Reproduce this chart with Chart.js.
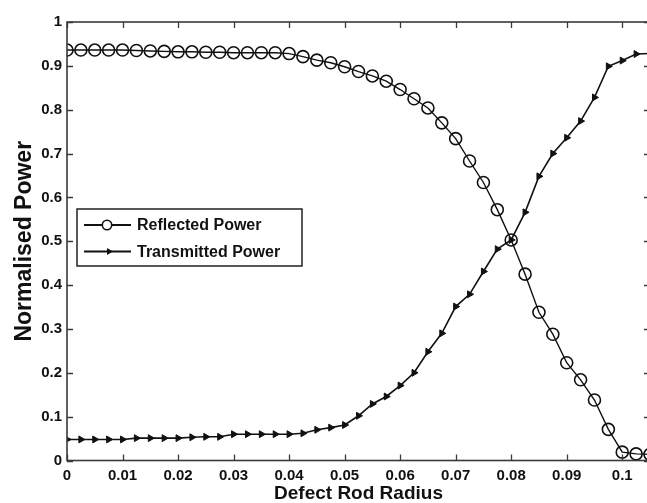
<!DOCTYPE html>
<html>
<head>
<meta charset="utf-8">
<script src="https://cdn.jsdelivr.net/npm/chart.js@4.4.1/dist/chart.umd.min.js"></script>
<style>
    html, body { margin: 0; padding: 0; background: #ffffff; overflow: hidden; }
    #wrap { width: 647px; height: 503px; overflow: hidden; }
</style>
</head>
<body>
<div id="wrap"><canvas id="powerChart" width="651" height="503"></canvas></div>
<script>
/* ----------------------------------------------------------------------------
                                     DATA
---------------------------------------------------------------------------- */
var defectRadius = [0, 0.0025, 0.005, 0.0075, 0.01, 0.0125, 0.015, 0.0175, 0.02, 0.0225,
                    0.025, 0.0275, 0.03, 0.0325, 0.035, 0.0375, 0.04, 0.0425, 0.045, 0.0475,
                    0.05, 0.0525, 0.055, 0.0575, 0.06, 0.0625, 0.065, 0.0675, 0.07, 0.0725,
                    0.075, 0.0775, 0.08, 0.0825, 0.085, 0.0875, 0.09, 0.0925, 0.095, 0.0975,
                    0.1, 0.1025, 0.105];

var reflectedPower = [0.936, 0.936, 0.936, 0.936, 0.936, 0.935, 0.934, 0.933, 0.932, 0.932,
                      0.931, 0.931, 0.930, 0.930, 0.930, 0.930, 0.928, 0.921, 0.913, 0.907,
                      0.898, 0.887, 0.877, 0.865, 0.846, 0.825, 0.804, 0.770, 0.734, 0.683,
                      0.634, 0.572, 0.503, 0.425, 0.338, 0.288, 0.223, 0.184, 0.138, 0.071,
                      0.019, 0.015, 0.014];

var transmittedPower = [0.048, 0.048, 0.048, 0.048, 0.048, 0.051, 0.051, 0.051, 0.051, 0.053,
                        0.054, 0.054, 0.060, 0.060, 0.060, 0.060, 0.060, 0.062, 0.070, 0.075,
                        0.081, 0.102, 0.129, 0.146, 0.171, 0.200, 0.248, 0.290, 0.351, 0.379,
                        0.431, 0.482, 0.503, 0.566, 0.648, 0.700, 0.736, 0.774, 0.828, 0.899,
                        0.912, 0.927, 0.928];

var xTickValues = [0, 0.01, 0.02, 0.03, 0.04, 0.05, 0.06, 0.07, 0.08, 0.09, 0.1];
var xTickLabels = ['0', '0.01', '0.02', '0.03', '0.04', '0.05', '0.06', '0.07', '0.08', '0.09', '0.1'];
var yTickValues = [0, 0.1, 0.2, 0.3, 0.4, 0.5, 0.6, 0.7, 0.8, 0.9, 1];
var yTickLabels = ['0', '0.1', '0.2', '0.3', '0.4', '0.5', '0.6', '0.7', '0.8', '0.9', '1'];

/* ----------------------------------------------------------------------------
                                    PLUGINS
---------------------------------------------------------------------------- */
var FONT = "'Liberation Sans', Arial, sans-serif";

// MATLAB style box with inward ticks on all four sides
var boxTicks = {
    id: 'boxTicks',
    afterDatasetsDraw: function(chart) {
        var ctx = chart.ctx;
        var a = chart.chartArea;
        var xs = chart.scales.x;
        var ys = chart.scales.y;
        var len = 6;
        ctx.save();
        ctx.strokeStyle = '#3a3a3a';
        ctx.lineWidth = 1.3;
        ctx.beginPath();
        for (var i = 0; i < xTickValues.length; i++) {
            var px = Math.round(xs.getPixelForValue(xTickValues[i])) + 0.5;
            ctx.moveTo(px, a.bottom); ctx.lineTo(px, a.bottom - len);
            ctx.moveTo(px, a.top); ctx.lineTo(px, a.top + len);
        }
        for (var j = 0; j < yTickValues.length; j++) {
            var py = Math.round(ys.getPixelForValue(yTickValues[j])) + 0.5;
            ctx.moveTo(a.left, py); ctx.lineTo(a.left + len, py);
            ctx.moveTo(a.right, py); ctx.lineTo(a.right - len, py);
        }
        ctx.stroke();
        ctx.lineWidth = 1.6;
        ctx.strokeRect(a.left, a.top, a.right - a.left, a.bottom - a.top);
        ctx.restore();
    }
};

// legend box inside the plot, built from the datasets
var innerLegend = {
    id: 'innerLegend',
    afterDraw: function(chart) {
        var ctx = chart.ctx;
        var sets = chart.data.datasets;
        var bx = 77, by = 209, bw = 225, bh = 57;
        ctx.save();
        ctx.fillStyle = '#ffffff';
        ctx.fillRect(bx, by, bw, bh);
        ctx.strokeStyle = '#222222';
        ctx.lineWidth = 1.5;
        ctx.strokeRect(bx, by, bw, bh);
        for (var i = 0; i < sets.length; i++) {
            var ds = sets[i];
            var cy = by + 16 + i * 26.5;
            ctx.strokeStyle = ds.borderColor;
            ctx.lineWidth = 2;
            ctx.beginPath();
            ctx.moveTo(bx + 7, cy);
            ctx.lineTo(bx + 54, cy);
            ctx.stroke();
            if (ds.pointStyle === 'circle') {
                ctx.fillStyle = '#ffffff';
                ctx.beginPath();
                ctx.arc(bx + 30, cy, 4.7, 0, Math.PI * 2);
                ctx.fill();
                ctx.lineWidth = 1.6;
                ctx.stroke();
            } else {
                ctx.fillStyle = ds.pointBackgroundColor;
                ctx.beginPath();
                ctx.moveTo(bx + 36, cy);
                ctx.lineTo(bx + 30, cy - 3.5);
                ctx.lineTo(bx + 30, cy + 3.5);
                ctx.closePath();
                ctx.fill();
            }
            ctx.fillStyle = '#111111';
            ctx.font = 'bold 16px ' + FONT;
            ctx.textBaseline = 'middle';
            ctx.fillText(ds.label, bx + 60, cy + 1);
        }
        ctx.restore();
    }
};

/* ----------------------------------------------------------------------------
                                     MAIN
---------------------------------------------------------------------------- */
function toPoints(xs, ys) {
    var pts = [];
    for (var i = 0; i < xs.length; i++) pts.push({ x: xs[i], y: ys[i] });
    return pts;
}

const ctx_power = document.getElementById('powerChart').getContext('2d');

const chartPower = new Chart(ctx_power, {
    type: 'line',
    data: {
        datasets: [{
            label: 'Reflected Power',
            data: toPoints(defectRadius, reflectedPower),
            borderColor: '#111111',
            borderWidth: 1.4,
            pointStyle: 'circle',
            pointRadius: 6,
            pointBorderWidth: 1.6,
            pointBorderColor: '#111111',
            pointBackgroundColor: 'rgba(0,0,0,0)',
            tension: 0
        }, {
            label: 'Transmitted Power',
            data: toPoints(defectRadius, transmittedPower),
            borderColor: '#111111',
            borderWidth: 1.6,
            pointStyle: 'triangle',
            pointRotation: 90,
            pointRadius: 4,
            pointBorderWidth: 1,
            pointBorderColor: '#111111',
            pointBackgroundColor: '#111111',
            tension: 0
        }]
    },
    options: {
        responsive: false,
        animation: false,
        layout: {
            autoPadding: false,
            padding: { top: 22, right: 1, left: 0, bottom: 0 }
        },
        plugins: {
            legend: { display: false },
            tooltip: { enabled: false }
        },
        scales: {
            x: {
                type: 'linear',
                min: 0,
                max: 0.105,
                afterFit: function(scale) {
                    scale.height = 42.5;
                    scale.paddingLeft = 0;
                    scale.paddingRight = 0;
                },
                afterBuildTicks: function(scale) {
                    scale.ticks = xTickValues.map(function(v) { return { value: v }; });
                },
                grid: { display: false, drawTicks: false },
                border: { display: false },
                ticks: {
                    color: '#111111',
                    padding: 6,
                    maxRotation: 0,
                    autoSkip: false,
                    font: { family: FONT, size: 15, weight: 'bold' },
                    callback: function(value, index) { return xTickLabels[index]; }
                },
                title: {
                    display: true,
                    text: 'Defect Rod Radius',
                    color: '#111111',
                    padding: { top: 0, bottom: 0 },
                    font: { family: FONT, size: 19, weight: 'bold', lineHeight: 1 }
                }
            },
            y: {
                min: 0,
                max: 1,
                afterFit: function(scale) {
                    scale.width = 67;
                    scale.paddingTop = 0;
                    scale.paddingBottom = 0;
                },
                afterBuildTicks: function(scale) {
                    scale.ticks = yTickValues.map(function(v) { return { value: v }; });
                },
                grid: { display: false, drawTicks: false },
                border: { display: false },
                ticks: {
                    color: '#111111',
                    padding: 5,
                    autoSkip: false,
                    font: { family: FONT, size: 15, weight: 'bold' },
                    callback: function(value, index) { return yTickLabels[index]; }
                },
                title: {
                    display: true,
                    text: 'Normalised Power',
                    color: '#111111',
                    padding: { top: 13, bottom: 0 },
                    font: { family: FONT, size: 23, weight: 'bold', lineHeight: 1 }
                }
            }
        }
    },
    plugins: [boxTicks, innerLegend]
});
</script>
</body>
</html>
